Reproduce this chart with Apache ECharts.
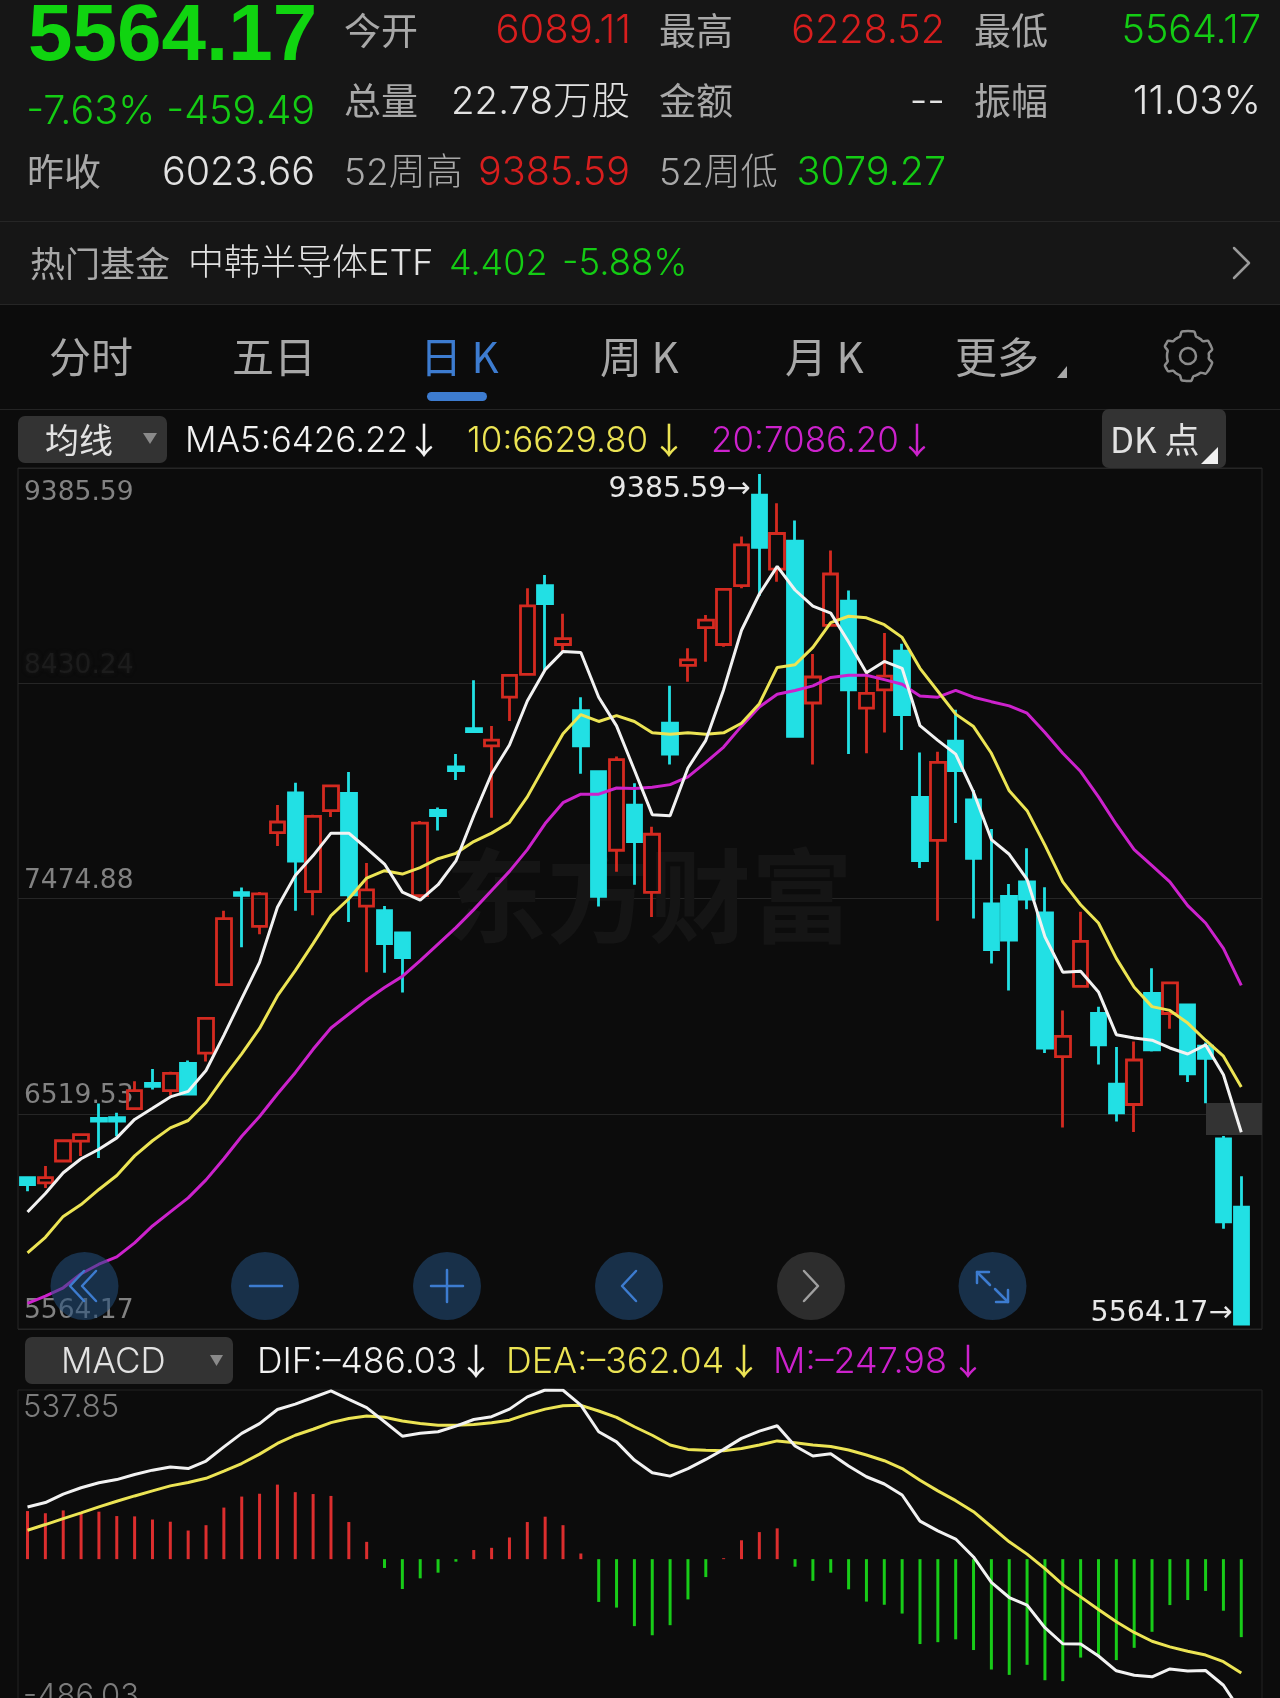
<!DOCTYPE html>
<html lang="zh">
<head>
<meta charset="utf-8">
<title>韩国综合指数 日K</title>
<style>
html,body{margin:0;padding:0;background:#0c0c0c;}
#chart{width:1280px;height:1698px;overflow:hidden;}
</style>
<script src="https://cdn.jsdelivr.net/npm/echarts@6/dist/echarts.min.js"></script>
</head>
<body>
<div id="chart"></div>
<script>
// Daily candles
const openPrice = [6222,6199,6297,6386,6489,6492,6532,6646,6613,6736,6782,7090,7503,7352,7773,7952,7508,7872,7950,7443,7422,7322,7490,7873,8069,8241,8163,8382,8485,8884,8619,8322,8047,7694,7897,7505,8265,8525,8695,8619,8884,9290,8958,9084,8356,8705,8814,8333,8415,8589,7932,7738,8184,7920,7453,7486,7552,7412,6766,7082,6960,6642,6551,7051,6960,6999,6813,6396,6089.11];
const closePrice = [6191,6222,6388,6416,6476,6476,6613,6633,6691,6598,6938,7387,7491,7498,7821,7645,7846,7983,7493,7516,7274,7211,7816,7850,8052,8227,8189,8480,8793,8803,8645,8163,7487,8101,7733,7766,8126,8550,8729,8867,9067,9056,9118,8206,8473,8936,8415,8399,8477,8304,7647,8089,8052,7658,7247,7290,7474,6805,6857,7284,6819,6514,6751,6797,7098,6689,6758,6023.66,5564.17];
const lowPrice = [6161,6176,6295,6320,6310,6408,6530,6618,6592,6595,6744,7087,7258,7316,7713,7422,7402,7844,7372,7145,7143,7054,7480,7783,8010,8224,7840,8275,8480,8502,8588,8038,7441,7597,7539,7394,8079,8451,8542,8609,8872,8838,8901,8204,8080,8703,8127,8130,8223,8145,7614,7377,7817,7387,7185,7063,7429,6782,6448,7080,6731,6475,6427,6789,6892,6652,6557,5992,5564.17];
const highPrice = [6225,6274,6391,6421,6555,6514,6656,6711,6698,6749,6943,7422,7526,7506,7897,7998,7854,7988,8046,7637,7443,7324,7825,7886,8127,8458,8253,8485,8872,8932,8757,8382,8050,8115,7995,7800,8433,8602,8752,8869,9104,9385.59,9254,9177,8576,9042,8862,8502,8671,8622,8134,8137,8326,7965,7790,7542,7703,7528,6974,7418,6991,6809,6834,7164,7102,7001,6830,6409,6228.52];

// Moving averages
const ma5 = [6068,6151,6244,6307,6350,6401,6484,6534,6585,6610,6704,6862,7027,7190,7438,7581,7670,7771,7771,7703,7632,7506,7470,7539,7646,7849,8038,8167,8365,8506,8588,8583,8382,8253,8055,7854,7849,8064,8188,8416,8683,8846,8970,8864,8792,8760,8630,8492,8543,8512,8254,8188,8126,7955,7742,7676,7563,7305,7146,7150,7057,6865,6850,6840,6805,6778,6819,6685,6426.22];
const ma10 = [5884,5954,6048,6101,6169,6232,6320,6388,6446,6479,6560,6673,6779,6893,7039,7153,7274,7400,7476,7569,7602,7587,7616,7656,7680,7733,7771,7819,7934,8077,8218,8304,8273,8299,8273,8222,8215,8222,8215,8222,8265,8353,8516,8528,8606,8717,8746,8739,8708,8651,8512,8409,8306,8250,8130,7961,7872,7717,7552,7449,7367,7208,7078,6991,6974,6917,6840,6768,6629.80];
const ma20 = [5657,5690,5727,5790,5833,5866,5929,6005,6068,6131,6212,6307,6408,6497,6598,6694,6799,6895,6958,7021,7077,7127,7198,7272,7346,7427,7513,7599,7697,7814,7908,7946,7946,7974,7972,7977,7989,8024,8089,8158,8252,8338,8395,8412,8433,8471,8481,8481,8461,8440,8388,8382,8413,8382,8362,8343,8310,8223,8130,8048,7934,7810,7697,7625,7552,7445,7367,7253,7086.20];

// MACD
const dif = [166,180,207,227,243,253,269,283,293,288,312,357,400,431,476,493,514,535,508,482,437,391,400,405,423,444,453,477,516,537.85,537,490,405,373,315,275,264,288,317,349,384,407,424,360,328,335,296,262,239,204,121,90,64,7,-74,-122,-146,-218,-269,-270,-308,-355,-369,-374,-349,-356,-354,-401,-486.03];
const dea = [92,110,129,147,166,184,201,217,233,244,257,280,304,334,368,394,413,434,447,455,451,439,431,426,426,428,434,442,461,477,488,489,471,451,421,394,363,349,346,345,352,363,376,370,363,358,347,331,313,288,251,217,186,151,103,55,16,-30,-81,-120,-160,-199,-233,-261,-279,-293,-305,-326,-362.04];
const macdBar = [153,146,155,146,151,137,136,126,119,91,108,164,199,208,237,213,207,201,118,55,-28,-95,-61,-43,-8,29,36,69,118,135,108,18,-136,-154,-213,-242,-210,-128,-57,3,60,86,98,-24,-69,-43,-96,-135,-145,-173,-270,-264,-255,-289,-351,-368,-336,-385,-388,-313,-308,-321,-282,-231,-146,-130,-101,-164,-247.98];

// Axis tick labels
const priceTicks = ['5564.17','6519.53','7474.88','8430.24','9385.59'];
const macdTicks = ['-486.03','537.85'];
const categories = openPrice.map((_, i) => 'K' + (i + 1));
const candleData = openPrice.map((o, i) => [o, closePrice[i], lowPrice[i], highPrice[i]]);

const RED = '#d42a20', CYAN = '#22e0e4', GREEN = '#14cc14', QUOTE_RED = '#d81e1e';
const WHITE = '#f2f2f2', YELLOW = '#ece454', MAGENTA = '#cc22cc', BLUE = '#3d7cd0';
const GREY = '#a8a8a8', TEXT = '#e2e2e2';
const LATIN = '"Inter","Noto Sans CJK SC",sans-serif';
const CJK = '"Noto Sans CJK SC",sans-serif';

// Shared pixel layout of the price and MACD panes
const FRAME_LEFT = 18, FRAME_WIDTH = 1244, CANDLE_LEFT = 18.6, CANDLE_WIDTH = 1231.6;
const PRICE_TOP = 468, PRICE_HEIGHT = 861, MACD_TOP = 1390, MACD_HEIGHT = 322;
const PRICE_MIN = 5541.7, PRICE_MAX = 9412.5, PRICE_STEP = 967.7;

const g = [];
function text(s, x, y, size, fill, opt) {
  opt = opt || {};
  g.push({type: 'text', z: opt.z || 20, style: {
    text: s, x: x, y: y, fill: fill,
    font: (opt.weight || 400) + ' ' + size + 'px ' + (opt.family || LATIN),
    textAlign: opt.align || 'left', textVerticalAlign: 'middle'
  }});
}
function rect(x, y, w, h, fill, r, z) {
  g.push({type: 'rect', z: z === undefined ? 5 : z, shape: {x: x, y: y, width: w, height: h, r: r || 0}, style: {fill: fill}});
}
function stroke(points, color, w, z) {
  g.push({type: 'polyline', z: z || 21, shape: {points: points},
    style: {fill: 'none', stroke: color, lineWidth: w, lineCap: 'round', lineJoin: 'round'}});
}
function tri(points, fill) {
  g.push({type: 'polygon', z: 21, shape: {points: points}, style: {fill: fill}});
}

// Page bands
rect(0, 0, 1280, 304, '#161616', 0, 1);
rect(0, 221, 1280, 1, '#262626', 0, 2);
rect(0, 304, 1280, 1, '#262626', 0, 2);
rect(0, 409, 1280, 1, '#242424', 0, 2);

// Quote block
text('5564.17', 28, 38, 80, '#10d410', {weight: 700, family: '"Liberation Sans",sans-serif'});
text('-7.63% -459.49', 315, 112, 39.5, GREEN, {align: 'right', weight: 300});
text('昨收', 27, 172, 37, GREY, {family: CJK});
text('6023.66', 315, 173, 39.5, TEXT, {align: 'right', weight: 300});

text('今开', 344, 31, 37, GREY, {family: CJK});
text('6089.11', 631, 31, 40, QUOTE_RED, {align: 'right', weight: 300});
text('最高', 659, 31, 37, GREY, {family: CJK});
text('6228.52', 945, 31, 39.5, QUOTE_RED, {align: 'right', weight: 300});
text('最低', 974, 31, 37, GREY, {family: CJK});
text('5564.17', 1261, 31, 39.5, GREEN, {align: 'right', weight: 300});

text('总量', 344, 101, 37, GREY, {family: CJK});
text('22.78万股', 630, 102, 38.5, TEXT, {align: 'right', weight: 300});
text('金额', 659, 101, 37, GREY, {family: CJK});
text('--', 945, 102, 39, TEXT, {align: 'right', weight: 300});
text('振幅', 974, 101, 37, GREY, {family: CJK});
text('11.03%', 1261, 102, 40, TEXT, {align: 'right', weight: 300});

text('52周高', 344, 174, 37, GREY, {weight: 300});
text('9385.59', 630, 173, 39.5, QUOTE_RED, {align: 'right', weight: 300});
text('52周低', 659, 174, 37, GREY, {weight: 300});
text('3079.27', 946, 173, 39.5, GREEN, {align: 'right', weight: 300});

// Featured fund row
text('热门基金', 30, 264, 35, GREY, {family: CJK});
text('中韩半导体ETF', 188, 264, 36, TEXT, {weight: 300});
text('4.402', 449, 264, 36, GREEN, {weight: 300});
text('-5.88%', 562, 264, 36.5, GREEN, {weight: 300});
stroke([[1234, 248], [1249, 263], [1234, 278]], '#9a9a9a', 2.5);

// Period tabs
text('分时', 49, 357, 42, GREY, {family: CJK});
text('五日', 232, 357, 42, GREY, {family: CJK});
text('日 K', 420, 357, 42, BLUE, {family: CJK});
text('周 K', 600, 357, 42, GREY, {family: CJK});
text('月 K', 785, 357, 42, GREY, {family: CJK});
text('更多', 955, 357, 42, GREY, {family: CJK});
tri([[1067, 366], [1067, 378], [1057, 378]], GREY);
rect(427, 392, 60, 9, BLUE, 4.5, 6);

// Settings gear: scalloped ring with a hub
const gearPts = [];
for (let a = 0; a < 48; a++) {
  const th = a / 48 * Math.PI * 2;
  const r = 22 + (Math.cos(th * 6) > 0 ? 3 : -1);
  gearPts.push([1188 + r * Math.cos(th - Math.PI / 2), 356 + r * Math.sin(th - Math.PI / 2)]);
}
g.push({type: 'polygon', z: 21, shape: {points: gearPts, smooth: 0.3},
  style: {fill: 'none', stroke: '#8c8c8c', lineWidth: 2.5}});
g.push({type: 'circle', z: 21, shape: {cx: 1188, cy: 356, r: 8},
  style: {fill: 'none', stroke: '#8c8c8c', lineWidth: 2.5}});

// Price legend
rect(18, 416, 149, 47, '#333333', 7, 5);
text('均线', 45, 440, 34, TEXT, {family: CJK});
tri([[143, 433], [157, 433], [150, 444]], '#8a8a8a');
text('MA5:6426.22', 185, 441, 35, WHITE, {weight: 300});
text('↓', 406, 440, 36, WHITE, {family: CJK});
text('10:6629.80', 467, 441, 35, YELLOW, {weight: 300});
text('↓', 651, 440, 36, YELLOW, {family: CJK});
text('20:7086.20', 711, 441, 35, MAGENTA, {weight: 300});
text('↓', 899, 440, 36, MAGENTA, {family: CJK});
rect(1102, 409, 124, 59, '#333333', 7, 5);
text('DK 点', 1110, 440, 35, TEXT, {family: CJK});
tri([[1218, 447], [1218, 464], [1201, 464]], '#f0f0f0');

// Watermark behind the candles
text('东方财富', 445, 896, 102, '#151515', {family: CJK, weight: 700, z: 1});

// Last-price tag behind the averages
rect(1206, 1103, 56, 32, '#333333', 0, 1);

// Chart control buttons
const btnY = 1286;
[84.5, 265, 447, 629, 811, 992.5].forEach((cx, i) => {
  g.push({type: 'circle', z: 12, shape: {cx: cx, cy: btnY, r: 34},
    style: {fill: i === 4 ? 'rgba(72,72,72,0.55)' : 'rgba(34,78,124,0.55)'}});
});
stroke([[84, btnY - 15], [70, btnY], [84, btnY + 15]], BLUE, 2.5, 13);
stroke([[96, btnY - 15], [82, btnY], [96, btnY + 15]], BLUE, 2.5, 13);
stroke([[250, btnY], [282, btnY]], BLUE, 2.5, 13);
stroke([[431, btnY], [463, btnY]], BLUE, 2.5, 13);
stroke([[447, btnY - 16], [447, btnY + 16]], BLUE, 2.5, 13);
stroke([[636, btnY - 15], [622, btnY], [636, btnY + 15]], BLUE, 2.5, 13);
stroke([[804, btnY - 15], [818, btnY], [804, btnY + 15]], '#a0a0a0', 2.5, 13);
stroke([[977, 1283], [977, 1272], [989, 1272]], BLUE, 2.5, 13);
stroke([[977, 1272], [990, 1285]], BLUE, 2.5, 13);
stroke([[1008, 1290], [1008, 1302], [996, 1302]], BLUE, 2.5, 13);
stroke([[1008, 1302], [995, 1289]], BLUE, 2.5, 13);

// MACD legend
rect(25, 1337, 208, 47, '#333333', 7, 5);
text('MACD', 61, 1362, 35, TEXT, {weight: 300});
tri([[210, 1355], [223, 1355], [216.5, 1366]], '#8a8a8a');
text('DIF:–486.03', 257, 1362, 35.5, WHITE, {weight: 300});
text('↓', 458, 1361, 36, WHITE, {family: CJK});
text('DEA:–362.04', 506, 1362, 35.8, YELLOW, {weight: 300});
text('↓', 726, 1361, 36, YELLOW, {family: CJK});
text('M:–247.98', 773, 1362, 36, MAGENTA, {weight: 300});
text('↓', 950, 1361, 36, MAGENTA, {family: CJK});

function lineSeries(name, data, color, xi, yi) {
  return {name: name, type: 'line', data: data, xAxisIndex: xi, yAxisIndex: yi,
    symbol: 'none', smooth: false, z: 6, silent: true,
    lineStyle: {color: color, width: 3}};
}

const highLabel = {show: true, position: 'left', distance: 9, offset: [0, 16],
  color: '#e8e8e8', fontFamily: '"DejaVu Sans",sans-serif', fontSize: 28.5,
  formatter: '9385.59→'};
const lowLabel = {show: true, position: 'left', distance: 9, offset: [0, -10],
  color: '#e8e8e8', fontFamily: '"DejaVu Sans",sans-serif', fontSize: 28.5,
  formatter: '5564.17→'};

const gridBase = {outerBoundsMode: 'none', containLabel: false};

const option = {
  animation: false,
  backgroundColor: '#0c0c0c',
  graphic: {elements: g},
  grid: [
    Object.assign({left: FRAME_LEFT, width: FRAME_WIDTH, top: PRICE_TOP, height: PRICE_HEIGHT, show: true, borderColor: '#262626', borderWidth: 1, backgroundColor: 'transparent'}, gridBase),
    Object.assign({left: CANDLE_LEFT, width: CANDLE_WIDTH, top: PRICE_TOP, height: PRICE_HEIGHT}, gridBase),
    Object.assign({left: FRAME_LEFT, width: FRAME_WIDTH, top: MACD_TOP, height: MACD_HEIGHT, show: true, borderColor: '#222222', borderWidth: 1, backgroundColor: 'transparent'}, gridBase),
    Object.assign({left: CANDLE_LEFT, width: CANDLE_WIDTH, top: MACD_TOP, height: MACD_HEIGHT}, gridBase)
  ],
  xAxis: [
    {type: 'category', gridIndex: 0, data: categories, show: false},
    {type: 'category', gridIndex: 1, data: categories, show: false},
    {type: 'category', gridIndex: 2, data: categories, show: false},
    {type: 'category', gridIndex: 3, data: categories, show: false}
  ],
  yAxis: [
    {type: 'value', gridIndex: 0, min: PRICE_MIN, max: PRICE_MAX, interval: PRICE_STEP,
      axisLine: {show: false}, axisTick: {show: false},
      splitLine: {show: true, lineStyle: {color: '#262626', width: 1}},
      axisLabel: {inside: true, margin: 6, color: '#828282', fontFamily: '"DejaVu Sans",sans-serif', fontSize: 26.5,
        verticalAlign: 'bottom', verticalAlignMinLabel: 'bottom', verticalAlignMaxLabel: 'top', padding: [12, 0, 4, 0],
        formatter: function (value, index) {
          const s = priceTicks[Math.round((value - PRICE_MIN) / PRICE_STEP)];
          return index === 3 ? '{dim|' + s + '}' : s;
        },
        rich: {dim: {color: '#1c1c1c', fontFamily: '"DejaVu Sans",sans-serif', fontSize: 26.5,
          textShadowColor: '#181818', textShadowBlur: 4}}}},
    {type: 'value', gridIndex: 1, min: PRICE_MIN, max: PRICE_MAX, show: false, splitLine: {show: false}},
    {type: 'value', gridIndex: 2, min: -486.03, max: 537.85, interval: 1023.88,
      axisLine: {show: false}, axisTick: {show: false}, splitLine: {show: false},
      axisLabel: {inside: true, margin: 5, color: '#7c7c7c', fontFamily: LATIN, fontWeight: 300, fontSize: 31,
        verticalAlign: 'bottom', verticalAlignMinLabel: 'bottom', verticalAlignMaxLabel: 'top', padding: [2, 0, 0, 0],
        formatter: function (value, index) { return macdTicks[index]; }}},
    {type: 'value', gridIndex: 3, min: -486.03, max: 537.85, show: false, splitLine: {show: false}}
  ],
  series: [
    {name: '日K', type: 'candlestick', data: candleData, xAxisIndex: 1, yAxisIndex: 1, barWidth: 15, z: 4, silent: true,
      itemStyle: {color: 'rgba(12,12,12,0)', color0: CYAN, borderColor: RED, borderColor0: CYAN, borderWidth: 2.8},
      markPoint: {symbol: 'circle', symbolSize: 0, silent: true, animation: false, data: [
        {coord: [categories[41], highPrice[41]], label: highLabel},
        {coord: [categories[68], lowPrice[68]], label: lowLabel}
      ]}},
    lineSeries('MA20', ma20, MAGENTA, 1, 1),
    lineSeries('MA10', ma10, YELLOW, 1, 1),
    lineSeries('MA5', ma5, WHITE, 1, 1),
    {name: 'M', type: 'bar', data: macdBar, xAxisIndex: 3, yAxisIndex: 3, barWidth: 3, z: 4, silent: true,
      itemStyle: {color: function (p) { return p.value >= 0 ? '#dc2e2e' : '#18cc18'; }}},
    lineSeries('DEA', dea, YELLOW, 3, 3),
    lineSeries('DIF', dif, WHITE, 3, 3)
  ]
};

const chart = echarts.init(document.getElementById('chart'));
chart.setOption(option);
</script>
</body>
</html>
